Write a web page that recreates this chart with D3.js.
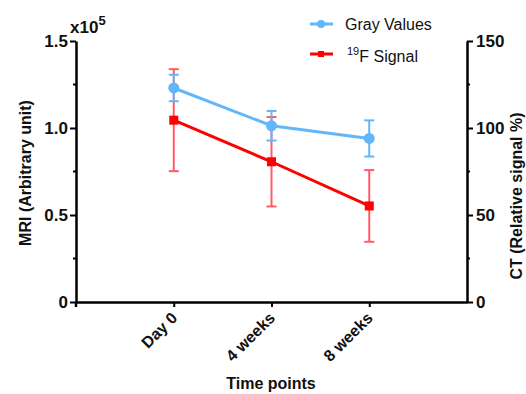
<!DOCTYPE html>
<html>
<head>
<meta charset="utf-8">
<script src="https://cdn.jsdelivr.net/npm/d3@7"></script>
<style>
  body { margin: 0; background: #fff; }
  text { font-family: "Liberation Sans", Arial, sans-serif; }
</style>
</head>
<body>
<script>
var w = 526;
var h = 394;

// time points and the two series (left: 19F MRI, right: CT gray values)
var timePoints = ["Day 0", "4 weeks", "8 weeks"];
var grayValues = [123, 101.3, 94];
var grayErr = [7.6, 8.5, 10.4];
var f19Signal = [104500, 80600, 55200];
var f19Err = [29300, 25700, 20600];
var leftTicks = [0, 50000, 100000, 150000];
var leftTickLabels = ["0", "0.5", "1.0", "1.5"];
var rightTicks = [0, 50, 100, 150];

var padL = 76, padR = 467, padT = 41, padB = 302;

var blue = "#62b6fa";
var red = "#ff0000";
var redErr = "#ff5c66";

var svg = d3.select("body")
  .append("svg")
  .attr("width", w)
  .attr("height", h);

var x = d3.scalePoint()
  .domain(timePoints)
  .range([padL, padR])
  .padding(1);

var yL = d3.scaleLinear().domain([0, 150000]).range([padB, padT]);
var yR = d3.scaleLinear().domain([0, 150]).range([padB, padT]);

// left axis
var gl = svg.append("g").attr("transform", "translate(" + padL + ",0)");
gl.call(d3.axisLeft(yL).tickValues(leftTicks).tickSize(6).tickSizeOuter(0)
  .tickFormat(function(d, i) { return leftTickLabels[i]; }));
gl.selectAll(".tick line").attr("stroke-width", 2);
gl.selectAll(".tick text")
  .attr("font-size", 17).attr("font-weight", "bold").attr("fill", "#111").attr("x", -8);
gl.select(".domain").attr("stroke-width", 2.5);
gl.selectAll(".minor").data([25000, 75000, 125000]).enter().append("line")
  .attr("x1", -3).attr("x2", 0)
  .attr("y1", function(d) { return yL(d); }).attr("y2", function(d) { return yL(d); })
  .attr("stroke", "#000").attr("stroke-width", 2);
gl.append("line").attr("x1", 0).attr("x2", 0).attr("y1", padB).attr("y2", padB + 5)
  .attr("stroke", "#000").attr("stroke-width", 2.5);

// right axis
var gr = svg.append("g").attr("transform", "translate(" + padR + ",0)");
gr.call(d3.axisRight(yR).tickValues(rightTicks).tickSize(6).tickSizeOuter(0));
gr.selectAll(".tick line").attr("stroke-width", 2);
gr.selectAll(".tick text")
  .attr("font-size", 17).attr("font-weight", "bold").attr("fill", "#111").attr("x", 9);
gr.select(".domain").attr("stroke-width", 2.5);
gr.selectAll(".minor").data([25, 75, 125]).enter().append("line")
  .attr("x1", 0).attr("x2", 3)
  .attr("y1", function(d) { return yR(d); }).attr("y2", function(d) { return yR(d); })
  .attr("stroke", "#000").attr("stroke-width", 2);

// x axis
var gx = svg.append("g").attr("transform", "translate(0," + padB + ")");
gx.call(d3.axisBottom(x).tickSize(5).tickSizeOuter(0));
gx.select(".domain").attr("stroke-width", 2.5);
gx.selectAll(".tick line").attr("stroke-width", 2);
gx.selectAll(".tick text")
  .attr("font-size", 16).attr("font-weight", "bold").attr("fill", "#111")
  .attr("text-anchor", "end")
  .attr("dy", 0).attr("y", 0)
  .attr("transform", "translate(4,17) rotate(-45)");

// axis titles
svg.append("text")
  .attr("transform", "translate(31,173) rotate(-90)")
  .attr("text-anchor", "middle")
  .attr("font-size", 16).attr("font-weight", "bold").attr("fill", "#111")
  .text("MRI (Arbitrary unit)");

svg.append("text")
  .attr("transform", "translate(522,196) rotate(-90)")
  .attr("text-anchor", "middle")
  .attr("font-size", 16).attr("font-weight", "bold").attr("fill", "#111")
  .text("CT (Relative signal %)");

svg.append("text")
  .attr("x", 271).attr("y", 389)
  .attr("text-anchor", "middle")
  .attr("font-size", 16).attr("font-weight", "bold").attr("fill", "#111")
  .text("Time points");

var mult = svg.append("text")
  .attr("x", 70).attr("y", 33)
  .attr("font-size", 17).attr("font-weight", "bold").attr("fill", "#111");
mult.append("tspan").text("x10");
mult.append("tspan").attr("dy", -8).attr("font-size", 13).text("5");

// error bars helper
function errorBars(vals, errs, y, color) {
  var g = svg.append("g").attr("stroke", color).attr("stroke-width", 2);
  g.selectAll(".v").data(timePoints).enter().append("line")
    .attr("x1", function(d) { return x(d); }).attr("x2", function(d) { return x(d); })
    .attr("y1", function(d, i) { return y(vals[i] + errs[i]); })
    .attr("y2", function(d, i) { return y(vals[i] - errs[i]); });
  [1, -1].forEach(function(s) {
    g.selectAll(".c" + (s + 1)).data(timePoints).enter().append("line")
      .attr("x1", function(d) { return x(d) - 5; }).attr("x2", function(d) { return x(d) + 5; })
      .attr("y1", function(d, i) { return y(vals[i] + s * errs[i]); })
      .attr("y2", function(d, i) { return y(vals[i] + s * errs[i]); });
  });
}

// 19F series
errorBars(f19Signal, f19Err, yL, redErr);
svg.append("path")
  .datum(timePoints)
  .attr("fill", "none").attr("stroke", red).attr("stroke-width", 3)
  .attr("d", d3.line().x(function(d) { return x(d); }).y(function(d, i) { return yL(f19Signal[i]); }));
svg.selectAll(".sq").data(timePoints).enter().append("rect")
  .attr("x", function(d) { return x(d) - 4.5; })
  .attr("y", function(d, i) { return yL(f19Signal[i]) - 4.5; })
  .attr("width", 9).attr("height", 9).attr("fill", red);

// gray values series
errorBars(grayValues, grayErr, yR, blue);
svg.append("path")
  .datum(timePoints)
  .attr("fill", "none").attr("stroke", blue).attr("stroke-width", 3)
  .attr("d", d3.line().x(function(d) { return x(d); }).y(function(d, i) { return yR(grayValues[i]); }));
svg.selectAll(".dot").data(timePoints).enter().append("circle")
  .attr("cx", function(d) { return x(d); })
  .attr("cy", function(d, i) { return yR(grayValues[i]); })
  .attr("r", 5.5).attr("fill", blue);

// legend
var lg = svg.append("g");
lg.append("line").attr("x1", 310).attr("x2", 333).attr("y1", 24).attr("y2", 24)
  .attr("stroke", blue).attr("stroke-width", 3);
lg.append("circle").attr("cx", 321).attr("cy", 24).attr("r", 4).attr("fill", blue);
lg.append("text").attr("x", 345).attr("y", 30).attr("font-size", 16).attr("fill", "#111")
  .text("Gray Values");

lg.append("line").attr("x1", 310).attr("x2", 333).attr("y1", 54).attr("y2", 54)
  .attr("stroke", red).attr("stroke-width", 3);
lg.append("rect").attr("x", 318).attr("y", 51).attr("width", 6).attr("height", 6).attr("fill", red);
var lt = lg.append("text").attr("x", 347).attr("y", 62).attr("font-size", 16).attr("fill", "#111");
lt.append("tspan").attr("font-size", 11).attr("dy", -7).text("19");
lt.append("tspan").attr("dy", 7).text("F Signal");
</script>
</body>
</html>
